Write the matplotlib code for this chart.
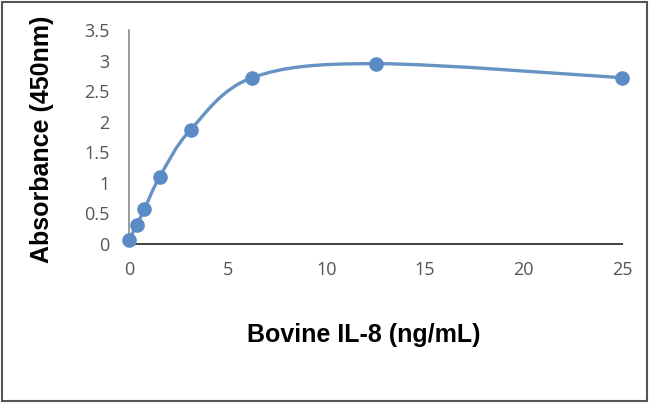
import numpy as np
import matplotlib
matplotlib.use("Agg")
import matplotlib.pyplot as plt
from matplotlib.path import Path
from matplotlib.patches import PathPatch, Rectangle

conc = [0.0, 0.39, 0.78, 1.56, 3.125, 6.25, 12.5, 25.0]
absorb = [0.07, 0.31, 0.57, 1.10, 1.87, 2.72, 2.95, 2.72]
xticks = [0, 5, 10, 15, 20, 25]
yticks = [0, 0.5, 1, 1.5, 2, 2.5, 3, 3.5]
ytick_labels = ["0", "0.5", "1", "1.5", "2", "2.5", "3", "3.5"]

line_color = "#6793c2"
marker_color = "#5a8bc6"

fig = plt.figure(figsize=(6.5, 4.03), dpi=100)
ax = fig.add_axes([129/650, 1-244/403, (622-129)/650, (244-30)/403])
ax.set_xlim(0, 25)
ax.set_ylim(0, 3.5)

# smooth curve (Excel-like Catmull-Rom bezier) built from the data points
xs = np.array(conc); ys = np.array(absorb)
verts = [(xs[0], ys[0])]
codes = [Path.MOVETO]
t = 1/6
n = len(xs)
for i in range(n-1):
    p0 = (xs[max(i-1, 0)], ys[max(i-1, 0)])
    p1 = (xs[i], ys[i]); p2 = (xs[i+1], ys[i+1])
    p3 = (xs[min(i+2, n-1)], ys[min(i+2, n-1)])
    c1 = (p1[0] + (p2[0]-p0[0])*t, p1[1] + (p2[1]-p0[1])*t)
    c2 = (p2[0] - (p3[0]-p1[0])*t, p2[1] - (p3[1]-p1[1])*t)
    verts += [c1, c2, p2]
    codes += [Path.CURVE4]*3
ax.add_patch(PathPatch(Path(verts, codes), fill=False, edgecolor=line_color,
                       lw=2.4, zorder=3, clip_on=False))
ax.plot(conc, absorb, linestyle="none", marker="o", ms=9.5,
        color=marker_color, zorder=4, clip_on=False)

for s in ["top", "right"]:
    ax.spines[s].set_visible(False)
ax.spines["left"].set_color("#8c8c8c")
ax.spines["left"].set_linewidth(1.2)
ax.spines["bottom"].set_color("#404040")
ax.spines["bottom"].set_linewidth(1.4)

ax.set_xticks(xticks)
ax.set_xticklabels([str(v) for v in xticks])
ax.set_yticks(yticks)
ax.set_yticklabels(ytick_labels)
ax.tick_params(axis="both", length=0, labelsize=13, labelcolor="#555555")
ax.tick_params(axis="x", pad=12)
ax.tick_params(axis="y", pad=14)
for lbl in ax.get_xticklabels() + ax.get_yticklabels():
    lbl.set_family("Open Sans")

ax.set_xlabel("Bovine IL-8 (ng/mL)", fontsize=18, fontweight="bold",
              family="Liberation Sans")
ax.xaxis.set_label_coords((364-129)/493, -(335-244)/214, transform=ax.transAxes)
ax.xaxis.label.set_va("center")
ax.set_ylabel("Absorbance (450nm)", fontsize=18, fontweight="bold",
              family="Liberation Sans")
ax.yaxis.set_label_coords(-(129-42)/493, (244-139)/214, transform=ax.transAxes)
ax.yaxis.label.set_va("center")

fig.patches.append(Rectangle((0.003, 0.005), 0.992, 0.99, transform=fig.transFigure,
                             fill=False, edgecolor="#555555", lw=1.5))

fig.savefig("out.png", dpi=100)
